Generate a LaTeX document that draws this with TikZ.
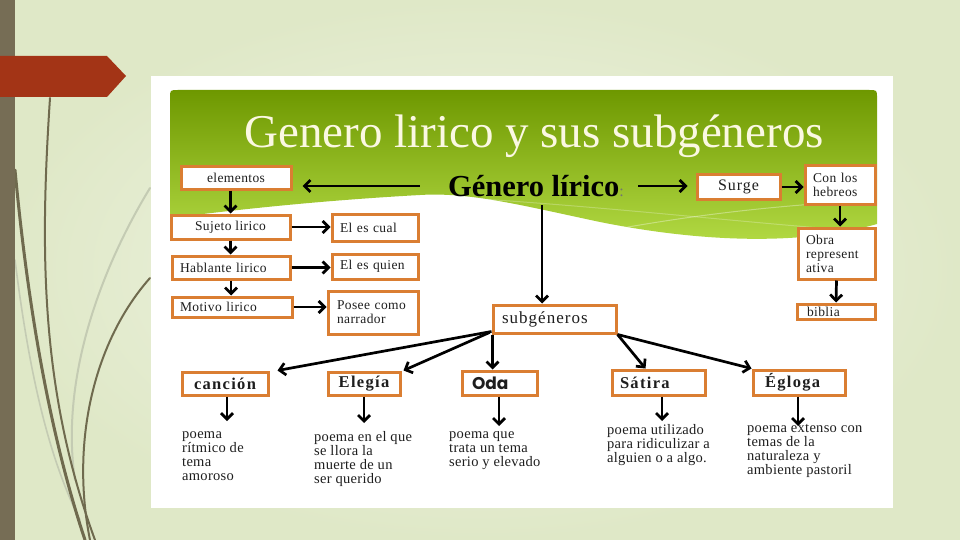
\documentclass[tikz,border=0pt]{standalone}
\usepackage{fontspec}
\setmainfont{Liberation Serif}
\newfontfamily\odafont{Poppins}
\usetikzlibrary{arrows.meta,shadows,calc}
\definecolor{boxor}{HTML}{DA7E32}
\definecolor{bgA}{HTML}{F1F5E7}
\definecolor{bgB}{HTML}{DFE8C7}
\definecolor{barc}{HTML}{766D55}
\definecolor{redc}{HTML}{A33416}
\definecolor{decoc}{HTML}{6F6A4E}
\definecolor{decol}{HTML}{C4CBB3}
\definecolor{gTop}{HTML}{6E9800}
\definecolor{gMid}{HTML}{8FBF17}
\definecolor{gBot}{HTML}{B4DB45}
\definecolor{titlec}{HTML}{FBF8E2}
\definecolor{txt}{HTML}{1E1E1E}
\tikzset{
  box/.style={draw=boxor, line width=3pt, fill=white, inner sep=0pt,
    drop shadow={shadow xshift=1.2pt, shadow yshift=-1.2pt, opacity=.3, fill=black!60},
    text=txt, font={\fontsize{13.5}{14}\selectfont\addfontfeature{LetterSpace=3}}},
  bigbox/.style={box, font={\fontsize{17}{18}\selectfont\addfontfeature{LetterSpace=6}}},
  hbox/.style={box, font={\bfseries\fontsize{16.5}{18}\selectfont\addfontfeature{LetterSpace=8}}},
  desc/.style={anchor=north west, inner sep=0pt, align=left, text=txt,
    font={\fontsize{14.5}{14}\selectfont\addfontfeature{LetterSpace=2}}},
  arr/.style={line width=2.7pt, -{Straight Barb[length=6pt,width=12pt]}},
  deco/.style={draw=decoc, line cap=round},
  decolight/.style={draw=decol, line cap=round}
}
\begin{document}
\begin{tikzpicture}[x=1pt,y=-1pt]
\useasboundingbox (0,0) rectangle (960,540);
% slide background
\shade[inner color=bgA, outer color=bgB] (0,0) rectangle (960,540);
% decorative curves
\draw[decolight, line width=2pt] (150,188) .. controls (100,270) and (60,380) .. (75,480);
\draw[decolight, line width=1.6pt] (15,260) .. controls (30,380) and (50,460) .. (80,520);
\draw[deco, line width=2pt] (50,98) .. controls (40,250) and (40,390) .. (95,540);
\draw[deco, line width=3pt] (15,170) .. controls (30,330) and (55,450) .. (85,540);
\draw[deco, line width=2pt] (150,278) .. controls (95,340) and (70,440) .. (90,540);
% left bar and red arrow
\fill[barc] (0,0) rectangle (15,540);
\fill[redc] (0,56) -- (107,56) -- (126,76) -- (107,97) -- (0,97) -- cycle;
% white panel
\fill[white] (151,76) rectangle (893,508);
% green banner
\shade[top color=gTop, middle color=gMid, bottom color=gBot]
  (170,218) -- (170,98) .. controls (170,90) .. (178,90) -- (869,90)
  .. controls (877,90) .. (877,98) -- (877,224)
  .. controls (800,246) and (700,242) .. (600,222)
  .. controls (520,205) and (470,192) .. (420,195)
  .. controls (330,200) and (250,208) .. (170,218) -- cycle;
\draw[white, opacity=.35, line width=1pt] (560,240) .. controls (680,215) and (780,205) .. (877,200);
\draw[white, opacity=.25, line width=1pt] (430,196) .. controls (600,205) and (760,225) .. (877,232);
% title
\node[anchor=base, text=titlec, font={\fontsize{47}{50}\selectfont}, inner sep=0pt] (title) at (534,148) {Genero lirico y sus subgéneros};
% central heading
\node[inner sep=0pt, text=black, font={\bfseries\fontsize{30.5}{32}\selectfont}] (genero) at (536,186) {Género lírico\textcolor{black!55}{\mdseries\fontsize{16}{16}\selectfont:}};
% left column
\node[box, minimum width=110pt, minimum height=22pt] (elementos) at (236,178) {elementos};
\node[box, minimum width=119pt, minimum height=24pt] (sujeto) at (230.5,227) {Sujeto lirico};
\node[box, minimum height=23pt, inner xsep=8pt, text width=102pt, align=left] (hablante) at (231,267.5) {Hablante lirico};
\node[box, minimum height=20pt, inner xsep=8pt, text width=104pt, align=left] (motivo) at (232,307) {Motivo lirico};
\node[box, minimum height=27pt, inner xsep=8pt, text width=70pt, align=left] (escual) at (375,227.5) {El es cual};
\node[box, minimum height=25pt, inner xsep=8pt, text width=70pt, align=left] (esquien) at (375,266.5) {El es quien};
\node[box, minimum height=43pt, inner xsep=9pt, text width=72pt, align=left] (posee) at (373,312.5) {Posee como\\narrador};
% right column
\node[bigbox, font={\fontsize{16}{17}\selectfont\addfontfeature{LetterSpace=6}}, minimum width=83pt, minimum height=24pt] (surge) at (738.5,187) {Surge};
\node[box, minimum height=38pt, inner xsep=8pt, text width=54pt, align=left] (hebreos) at (840,185) {Con los\\hebreos};
\node[box, minimum height=51pt, inner xsep=8pt, text width=61pt, align=left] (obra) at (836.5,253.5) {Obra\\represent\\ativa};
\node[box, minimum height=15pt, inner xsep=10pt, text width=58pt, align=left] (biblia) at (836,311.5) {biblia};
% subgeneros
\node[bigbox, minimum height=28pt, inner xsep=9pt, text width=105pt, align=left] (subg) at (554.5,319) {subgéneros};
\node[hbox, minimum width=86pt, minimum height=23pt] (cancion) at (225,383.5) {canción};
\node[hbox, minimum width=72pt, minimum height=23pt] (elegia) at (364,383.5) {Elegía};
\node[box, minimum height=24pt, inner xsep=10pt, text width=55pt, align=left, font={\odafont\bfseries\fontsize{17}{18}\selectfont}] (oda) at (499.5,383) {Oda};
\node[hbox, minimum height=25pt, inner xsep=8pt, text width=77pt, align=left] (satira) at (658.5,382.5) {Sátira};
\node[hbox, minimum height=25pt, inner xsep=12pt, text width=68pt, align=left] (egloga) at (799,382.5) {Égloga};
% descriptions
\node[desc] (dcan) at (182,431) {poema\\rítmico de\\tema\\amoroso};
\node[desc] (deleg) at (314,431) {poema en el que\\se llora la\\muerte de un\\ser querido};
\node[desc] (doda) at (449,431) {poema que\\trata un tema\\serio y elevado};
\node[desc] (dsat) at (607,424) {poema utilizado\\para ridiculizar a\\alguien o a algo.};
\node[desc] (degl) at (747,424) {poema extenso con\\temas de la\\naturaleza y\\ambiente pastoril};
% coordinates
\coordinate (gtop) at (542,205);
\coordinate (acan) at (227,421);
\coordinate (aeleg) at (364,423);
\coordinate (aoda) at (499,426);
\coordinate (asat) at (662,421);
\coordinate (aegl) at (798,426);
% arrows: top
\draw[arr, shorten <=28pt, shorten >=10pt] (genero.west) -- (elementos.east |- genero.west);
\draw[arr, shorten <=14pt, shorten >=8pt] (genero.east) -- (surge.west |- genero.east);
\draw[arr] (surge.east) -- (hebreos.west |- surge.east);
\draw[arr] (hebreos.south) -- (hebreos.south |- obra.north);
\draw[arr] (obra.south) -- (biblia.north);
\draw[arr] (gtop) -- (gtop |- subg.north);
% arrows: left column
\draw[arr] (elementos.south -| sujeto.north) -- (sujeto.north);
\draw[arr] (sujeto.south) -- (hablante.north -| sujeto.south);
\draw[arr] (hablante.south) -- (motivo.north -| hablante.south);
\draw[arr] (sujeto.east) -- (escual.west |- sujeto.east);
\draw[arr] (hablante.east) -- (esquien.west |- hablante.east);
\draw[arr] (motivo.east) -- (posee.west |- motivo.east);
% arrows: subgeneros
\draw[arr] ($(subg.south west)+(0,-3)$) -- ($(cancion.north east)+(8,0)$);
\draw[arr] ($(subg.south west)+(-2,-2)$) -- ($(elegia.north east)+(2,0)$);
\draw[arr] ($(subg.south west)+(1,0)$) -- ($(subg.south west |- oda.north)+(1,0)$);
\draw[arr] (subg.south east) -- ($(satira.north west)+(35,0)$);
\draw[arr] (subg.south east) -- (egloga.north west);
% arrows: descriptions
\draw[arr] (cancion.south -| acan) -- (acan);
\draw[arr] (elegia.south -| aeleg) -- (aeleg);
\draw[arr] (oda.south -| aoda) -- (aoda);
\draw[arr] (satira.south -| asat) -- (asat);
\draw[arr] (egloga.south -| aegl) -- (aegl);
\end{tikzpicture}
\end{document}
